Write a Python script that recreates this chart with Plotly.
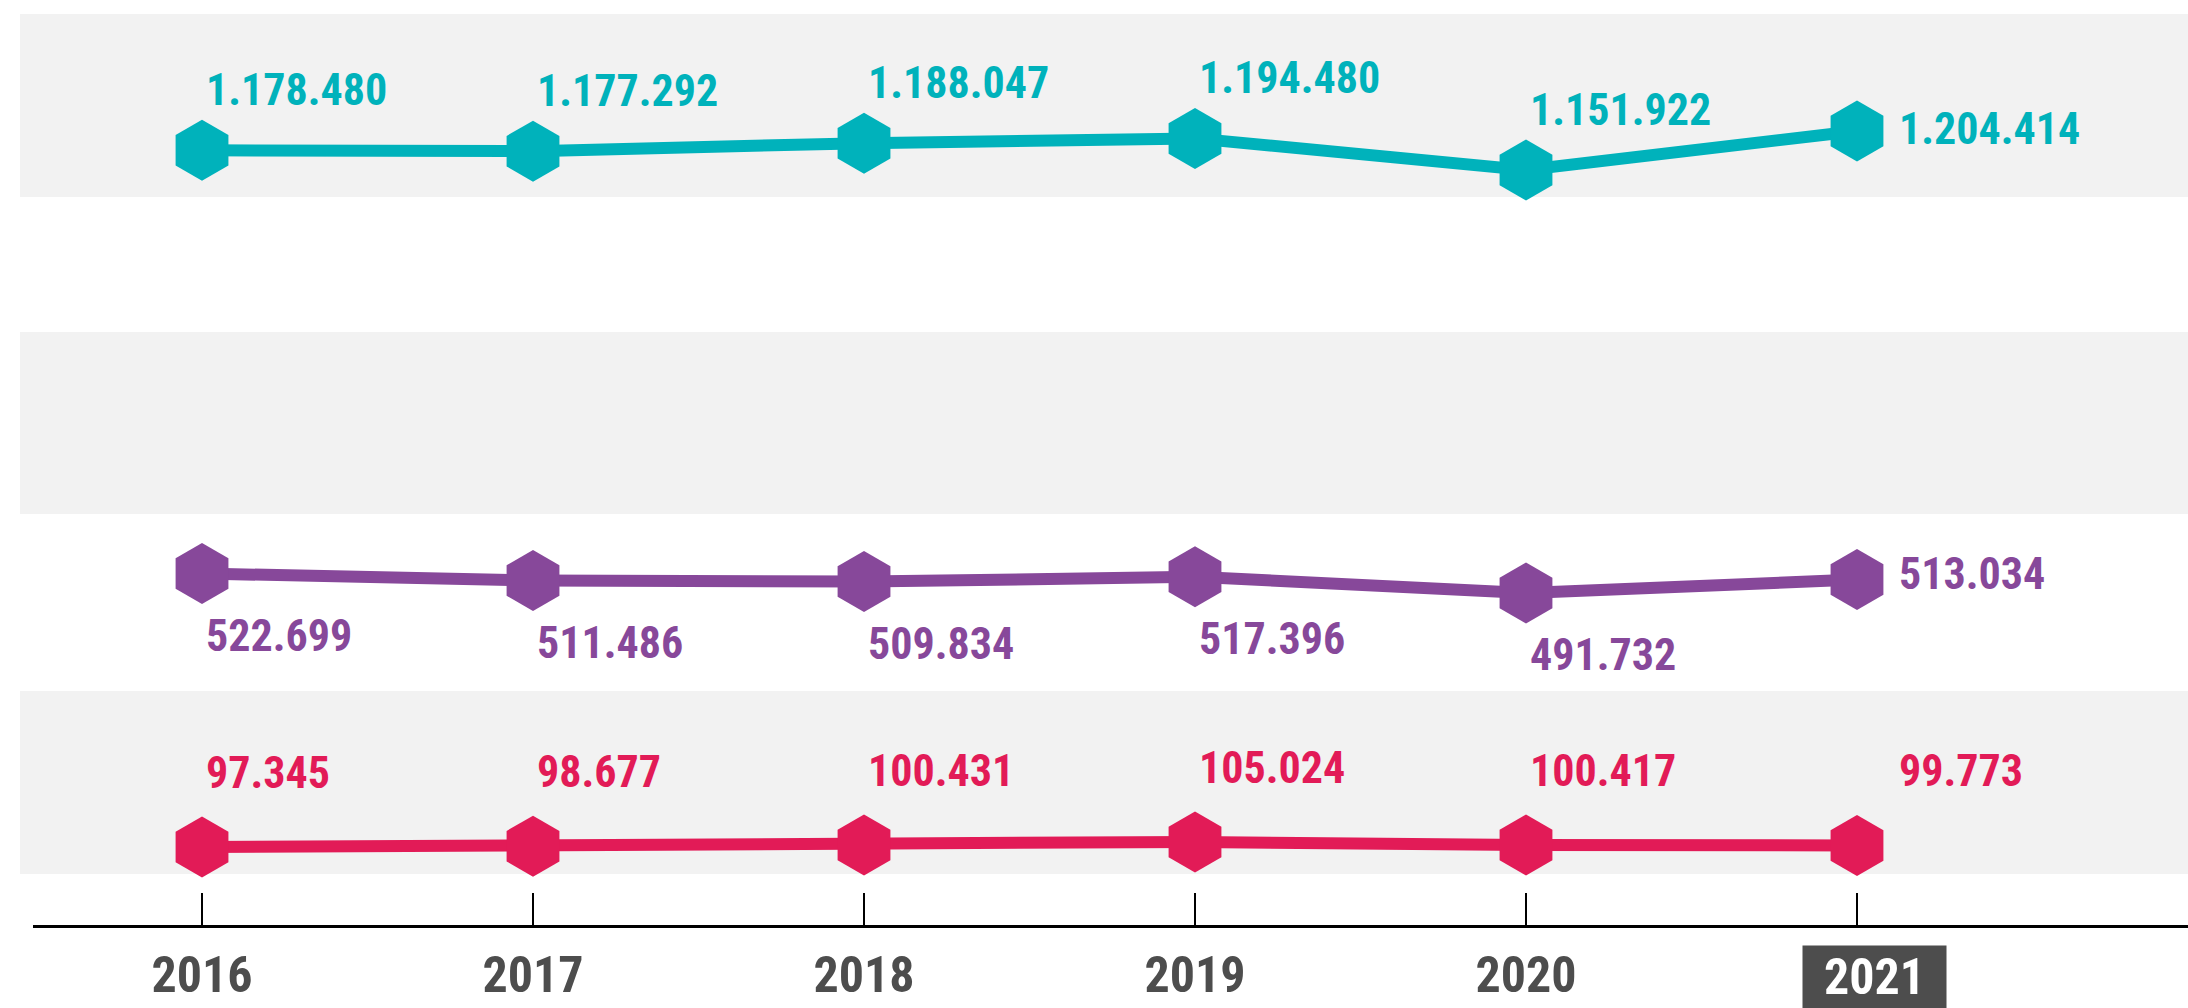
import plotly.graph_objects as go

years = [2016, 2017, 2018, 2019, 2020, 2021]
year_labels = ["2016", "2017", "2018", "2019", "2020", "2021"]
cyan_vals = [1178480, 1177292, 1188047, 1194480, 1151922, 1204414]
purple_vals = [522699, 511486, 509834, 517396, 491732, 513034]
red_vals = [97345, 98677, 100431, 105024, 100417, 99773]

CYAN = "#00B2BB"
PURPLE = "#87489A"
RED = "#E21B57"
DARK = "#4D4D4D"
BAND = "#F2F2F2"
FONT = "Roboto Condensed, Liberation Sans Narrow, DejaVu Sans Condensed, sans-serif"

W, H = 2188, 1008
ML, MB = 33, 83
PH = H - MB


def fmt(v):
    return f"{v:,}".replace(",", ".")


fig = go.Figure()
series = [
    (cyan_vals, CYAN, "y"),
    (purple_vals, PURPLE, "y2"),
    (red_vals, RED, "y3"),
]
for vals, col, ax in series:
    fig.add_trace(go.Scatter(
        x=years, y=vals, yaxis=ax, mode="lines+markers",
        line=dict(color=col, width=12),
        marker=dict(symbol="hexagon", size=61, color=col, line=dict(width=0)),
        hoverinfo="skip", showlegend=False, cliponaxis=False,
    ))

# background bands (pixel rows converted to paper coords)
for top, bot in [(14, 197), (332, 514), (691, 874)]:
    fig.add_shape(type="rect", xref="paper", yref="paper",
                  x0=(20 - ML) / (W - ML), x1=1,
                  y0=1 - bot / PH, y1=1 - top / PH,
                  fillcolor=BAND, line=dict(width=0), layer="below")

ann = []
lab_font = lambda c: dict(family=FONT, size=44, color=c, weight="bold")
for i, (x, v) in enumerate(zip(years, cyan_vals)):
    last = i == len(years) - 1
    ann.append(dict(x=x, y=v, xref="x", yref="y", text=fmt(v), showarrow=False,
                    xanchor="left", yanchor="middle",
                    xshift=40 if last else 2, yshift=2 if last else 60,
                    font=lab_font(CYAN)))
for i, (x, v) in enumerate(zip(years, purple_vals)):
    last = i == len(years) - 1
    ann.append(dict(x=x, y=v, xref="x", yref="y2", text=fmt(v), showarrow=False,
                    xanchor="left", yanchor="middle",
                    xshift=40 if last else 2, yshift=6 if last else -62,
                    font=lab_font(PURPLE)))
for i, (x, v) in enumerate(zip(years, red_vals)):
    last = i == len(years) - 1
    ann.append(dict(x=x, y=v, xref="x", yref="y3", text=fmt(v), showarrow=False,
                    xanchor="left", yanchor="middle",
                    xshift=40 if last else 2, yshift=74,
                    font=lab_font(RED)))
# highlighted last year
ann.append(dict(x=years[-1], y=1 - 977 / PH, xref="x", yref="paper",
                text=year_labels[-1], showarrow=False, xanchor="center", yanchor="middle",
                xshift=17, width=141, height=60, bgcolor=DARK,
                font=dict(family=FONT, size=50, color="white", weight="bold")))

fig.update_layout(
    width=W, height=H,
    margin=dict(l=ML, r=0, t=0, b=MB, pad=0, autoexpand=False),
    paper_bgcolor="white", plot_bgcolor="rgba(0,0,0,0)",
    xaxis=dict(range=[2015.4894, 2022.0], tickvals=years,
               ticktext=year_labels[:-1] + [""],
               ticks="inside", ticklen=32, tickwidth=2, tickcolor="black",
               showline=True, linewidth=3, linecolor="black", automargin=False,
               showgrid=False, zeroline=False, ticklabelstandoff=4,
               tickfont=dict(family=FONT, size=50, color=DARK, weight="bold")),
    yaxis=dict(range=[135692, 1380742], visible=False),
    yaxis2=dict(range=[-35484, 1433416], visible=False, overlaying="y"),
    yaxis3=dict(range=[-19583, 1367917], visible=False, overlaying="y"),
    annotations=ann,
)
fig.write_html(
    "out.html",
    config={"displayModeBar": False},
    post_script="document.body.style.margin='0';document.body.style.overflow='hidden';",
)
